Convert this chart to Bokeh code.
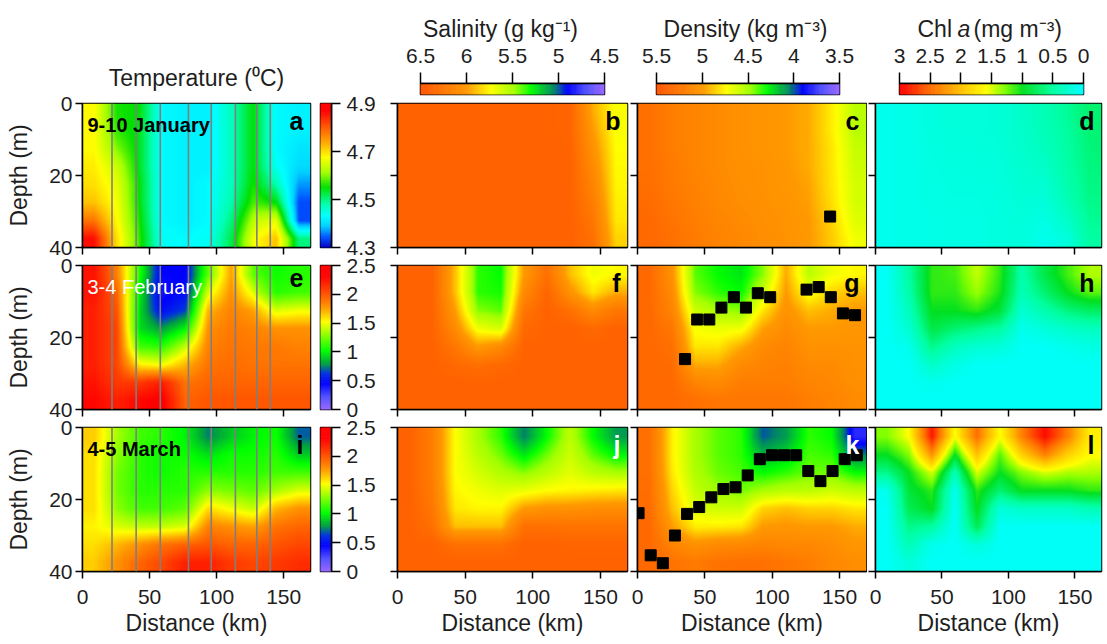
import numpy as np
from bokeh.plotting import figure
from bokeh.layouts import row, column
from bokeh.models import (Range1d, LinearColorMapper, FixedTicker, CustomJSTickFormatter,
                          Span, Label, ColumnDataSource)
from bokeh.embed import file_html
from bokeh.resources import INLINE

# ---------------- data ----------------
grid_dist_km = [8.5, 25.5, 42.5, 59.5, 76.5, 93.5, 110.5, 127.5, 144.5, 161.5]
grid_depth_m = [2.5, 7.5, 12.5, 17.5, 22.5, 27.5, 32.5, 37.5]
stations_km = [22, 40, 58, 79, 96, 114, 130, 140]

# each inner list = one distance column, values from surface to bottom
temp_jan = [
    [4.68, 4.68, 4.68, 4.69, 4.70, 4.72, 4.78, 4.86],
    [4.56, 4.57, 4.60, 4.64, 4.66, 4.67, 4.68, 4.70],
    [4.55, 4.54, 4.54, 4.54, 4.55, 4.55, 4.56, 4.57],
    [4.43, 4.43, 4.43, 4.43, 4.43, 4.43, 4.43, 4.44],
    [4.42, 4.42, 4.42, 4.42, 4.42, 4.42, 4.42, 4.43],
    [4.42, 4.42, 4.42, 4.42, 4.43, 4.43, 4.43, 4.44],
    [4.47, 4.47, 4.47, 4.47, 4.47, 4.48, 4.50, 4.52],
    [4.55, 4.55, 4.55, 4.55, 4.56, 4.58, 4.63, 4.67],
    [4.43, 4.43, 4.43, 4.44, 4.48, 4.55, 4.66, 4.72],
    [4.42, 4.42, 4.41, 4.40, 4.37, 4.34, 4.34, 4.50],
]
temp_feb = [
    [2.25, 2.25, 2.20, 2.20, 2.20, 2.20, 2.25, 2.30],
    [1.85, 1.95, 2.00, 2.05, 2.05, 2.05, 2.10, 2.20],
    [1.10, 1.00, 0.95, 0.95, 1.15, 1.55, 2.10, 2.30],
    [0.45, 0.40, 0.50, 0.80, 1.10, 1.50, 2.20, 2.35],
    [0.45, 0.50, 0.65, 1.00, 1.40, 1.70, 1.90, 1.95],
    [1.20, 1.45, 1.70, 1.80, 1.85, 1.90, 1.95, 2.00],
    [1.75, 1.80, 1.85, 1.88, 1.90, 1.92, 1.95, 2.00],
    [1.20, 1.45, 1.75, 1.85, 1.88, 1.90, 1.95, 2.00],
    [1.05, 1.10, 1.45, 1.80, 1.88, 1.90, 1.95, 2.00],
    [1.10, 1.15, 1.50, 1.80, 1.85, 1.90, 1.95, 2.00],
]
temp_mar = [
    [1.65, 1.60, 1.60, 1.60, 1.60, 1.55, 1.60, 1.65],
    [1.35, 1.30, 1.25, 1.25, 1.30, 1.45, 1.70, 1.80],
    [1.15, 1.10, 1.10, 1.10, 1.15, 1.40, 1.80, 1.95],
    [1.10, 1.05, 1.05, 1.10, 1.15, 1.40, 1.90, 2.05],
    [1.00, 1.05, 1.10, 1.10, 1.20, 1.45, 1.95, 2.20],
    [0.75, 0.95, 1.10, 1.30, 1.60, 1.85, 2.00, 2.20],
    [0.90, 1.05, 1.10, 1.25, 1.50, 1.80, 1.95, 2.10],
    [1.00, 1.05, 1.10, 1.20, 1.40, 1.75, 1.95, 2.05],
    [1.05, 1.10, 1.15, 1.35, 1.70, 1.90, 2.00, 2.10],
    [0.70, 0.90, 1.15, 1.45, 1.80, 1.95, 2.05, 2.15],
]
sal_jan = [
    [6.40, 6.40, 6.40, 6.40, 6.40, 6.40, 6.40, 6.40],
    [6.40, 6.40, 6.40, 6.40, 6.40, 6.40, 6.40, 6.40],
    [6.40, 6.40, 6.40, 6.40, 6.40, 6.40, 6.40, 6.40],
    [6.40, 6.40, 6.40, 6.40, 6.40, 6.40, 6.40, 6.40],
    [6.40, 6.40, 6.40, 6.40, 6.40, 6.40, 6.40, 6.40],
    [6.40, 6.40, 6.40, 6.40, 6.40, 6.40, 6.40, 6.40],
    [6.40, 6.40, 6.40, 6.40, 6.40, 6.40, 6.40, 6.40],
    [6.38, 6.38, 6.39, 6.40, 6.40, 6.40, 6.40, 6.40],
    [5.95, 6.00, 6.05, 6.10, 6.15, 6.20, 6.25, 6.30],
    [5.72, 5.72, 5.74, 5.75, 5.76, 5.78, 5.80, 5.85],
]
sal_feb = [
    [6.40, 6.40, 6.40, 6.40, 6.40, 6.40, 6.40, 6.40],
    [6.40, 6.40, 6.40, 6.40, 6.40, 6.40, 6.40, 6.40],
    [5.90, 5.90, 6.00, 6.10, 6.25, 6.35, 6.40, 6.40],
    [5.35, 5.35, 5.45, 5.70, 6.00, 6.30, 6.40, 6.40],
    [5.30, 5.32, 5.40, 5.62, 6.10, 6.35, 6.40, 6.40],
    [6.00, 6.10, 6.25, 6.35, 6.40, 6.40, 6.40, 6.40],
    [6.30, 6.38, 6.40, 6.40, 6.40, 6.40, 6.40, 6.40],
    [5.90, 6.05, 6.30, 6.40, 6.40, 6.40, 6.40, 6.40],
    [5.70, 5.80, 6.10, 6.35, 6.40, 6.40, 6.40, 6.40],
    [5.75, 5.95, 6.25, 6.40, 6.40, 6.40, 6.40, 6.40],
]
sal_mar = [
    [6.40, 6.40, 6.40, 6.40, 6.40, 6.40, 6.40, 6.40],
    [6.20, 6.20, 6.20, 6.22, 6.25, 6.30, 6.40, 6.40],
    [5.74, 5.74, 5.74, 5.76, 5.80, 5.90, 6.30, 6.40],
    [5.50, 5.55, 5.62, 5.70, 5.76, 5.90, 6.30, 6.40],
    [5.35, 5.42, 5.52, 5.65, 5.76, 5.90, 6.30, 6.40],
    [5.05, 5.25, 5.45, 5.68, 6.00, 6.30, 6.40, 6.40],
    [5.30, 5.42, 5.55, 5.74, 6.05, 6.30, 6.40, 6.40],
    [5.55, 5.60, 5.66, 5.76, 6.05, 6.28, 6.38, 6.40],
    [5.30, 5.40, 5.55, 5.78, 6.08, 6.28, 6.38, 6.40],
    [5.10, 5.28, 5.50, 5.80, 6.08, 6.28, 6.38, 6.40],
]
dens_jan = [
    [5.30, 5.30, 5.30, 5.30, 5.32, 5.33, 5.35, 5.35],
    [5.20, 5.20, 5.20, 5.22, 5.22, 5.25, 5.27, 5.30],
    [5.15, 5.15, 5.15, 5.15, 5.17, 5.18, 5.20, 5.22],
    [5.10, 5.10, 5.10, 5.10, 5.11, 5.12, 5.14, 5.16],
    [5.05, 5.05, 5.05, 5.06, 5.07, 5.08, 5.10, 5.12],
    [5.04, 5.04, 5.04, 5.05, 5.05, 5.06, 5.07, 5.08],
    [5.00, 5.00, 5.00, 5.01, 5.02, 5.03, 5.04, 5.05],
    [4.95, 4.95, 4.95, 4.95, 4.97, 4.98, 5.00, 5.00],
    [4.78, 4.78, 4.80, 4.80, 4.80, 4.82, 4.85, 4.87],
    [4.55, 4.55, 4.58, 4.60, 4.62, 4.62, 4.65, 4.70],
]
dens_feb = [
    [5.35, 5.35, 5.35, 5.35, 5.35, 5.35, 5.35, 5.35],
    [5.05, 5.10, 5.15, 5.25, 5.30, 5.33, 5.35, 5.35],
    [4.40, 4.45, 4.60, 4.72, 4.80, 4.95, 5.15, 5.30],
    [4.30, 4.35, 4.50, 4.68, 4.80, 4.95, 5.10, 5.25],
    [4.25, 4.30, 4.45, 4.70, 4.95, 5.10, 5.20, 5.25],
    [4.45, 4.60, 4.80, 4.98, 5.10, 5.15, 5.20, 5.25],
    [4.95, 5.00, 5.05, 5.10, 5.15, 5.18, 5.20, 5.25],
    [4.55, 4.70, 4.90, 5.00, 5.05, 5.10, 5.15, 5.20],
    [4.70, 4.85, 4.95, 5.00, 5.05, 5.10, 5.12, 5.15],
    [4.75, 4.90, 5.00, 5.02, 5.05, 5.05, 5.07, 5.10],
]
dens_mar = [
    [5.30, 5.30, 5.30, 5.32, 5.33, 5.35, 5.35, 5.35],
    [4.78, 4.78, 4.80, 4.85, 4.90, 5.00, 5.15, 5.28],
    [4.50, 4.50, 4.52, 4.58, 4.65, 4.78, 5.05, 5.22],
    [4.40, 4.40, 4.42, 4.48, 4.60, 4.78, 5.10, 5.28],
    [4.35, 4.35, 4.38, 4.42, 4.60, 4.80, 5.12, 5.30],
    [4.00, 4.15, 4.30, 4.50, 4.85, 5.00, 5.15, 5.30],
    [4.10, 4.22, 4.35, 4.55, 4.90, 5.02, 5.12, 5.25],
    [4.35, 4.38, 4.42, 4.55, 4.85, 5.00, 5.12, 5.20],
    [4.30, 4.35, 4.42, 4.60, 4.85, 5.00, 5.08, 5.12],
    [3.80, 4.05, 4.30, 4.55, 4.80, 4.95, 5.02, 5.08],
]
chl_jan = [
    [0.10, 0.10, 0.10, 0.10, 0.10, 0.10, 0.10, 0.10],
    [0.12, 0.12, 0.12, 0.12, 0.12, 0.12, 0.12, 0.12],
    [0.18, 0.18, 0.17, 0.16, 0.15, 0.15, 0.14, 0.14],
    [0.20, 0.20, 0.19, 0.18, 0.17, 0.16, 0.15, 0.15],
    [0.20, 0.20, 0.19, 0.18, 0.17, 0.16, 0.15, 0.15],
    [0.22, 0.22, 0.21, 0.20, 0.19, 0.18, 0.18, 0.18],
    [0.30, 0.29, 0.28, 0.26, 0.24, 0.22, 0.20, 0.20],
    [0.40, 0.38, 0.35, 0.30, 0.25, 0.20, 0.15, 0.10],
    [0.55, 0.52, 0.50, 0.48, 0.45, 0.40, 0.30, 0.20],
    [0.70, 0.68, 0.66, 0.64, 0.62, 0.60, 0.55, 0.50],
]
chl_feb = [
    [0.05, 0.05, 0.05, 0.05, 0.05, 0.05, 0.05, 0.05],
    [0.50, 0.45, 0.35, 0.25, 0.10, 0.05, 0.05, 0.05],
    [1.10, 1.10, 1.00, 0.85, 0.60, 0.30, 0.10, 0.05],
    [1.15, 1.10, 1.00, 0.70, 0.35, 0.15, 0.05, 0.05],
    [1.45, 1.35, 1.10, 0.60, 0.25, 0.05, 0.05, 0.05],
    [1.10, 1.05, 0.90, 0.50, 0.20, 0.05, 0.05, 0.05],
    [0.45, 0.40, 0.25, 0.10, 0.05, 0.05, 0.05, 0.05],
    [0.85, 0.70, 0.45, 0.20, 0.05, 0.05, 0.05, 0.05],
    [1.15, 1.00, 0.65, 0.30, 0.10, 0.05, 0.05, 0.05],
    [1.40, 1.20, 0.75, 0.35, 0.15, 0.05, 0.05, 0.05],
]
chl_mar = [
    [1.30, 1.00, 0.60, 0.10, 0.05, 0.05, 0.05, 0.05],
    [1.60, 1.30, 1.00, 0.90, 0.80, 0.60, 0.40, 0.20],
    [2.90, 2.30, 1.50, 1.10, 1.00, 0.50, 0.10, 0.05],
    [1.60, 1.00, 0.40, 0.10, 0.05, 0.05, 0.05, 0.05],
    [2.50, 2.00, 1.50, 1.10, 1.00, 0.80, 0.20, 0.05],
    [1.60, 1.20, 1.00, 0.70, 0.20, 0.05, 0.05, 0.05],
    [2.40, 1.90, 1.30, 1.00, 0.30, 0.05, 0.05, 0.05],
    [2.95, 2.40, 1.50, 1.00, 0.30, 0.05, 0.05, 0.05],
    [2.40, 1.90, 1.40, 1.00, 0.30, 0.05, 0.05, 0.05],
    [1.70, 1.60, 1.40, 1.10, 0.40, 0.05, 0.05, 0.05],
]

# marker positions (density panels)
dens_jan_pts_km = [143.0]
dens_jan_pts_m = [31.4]
dens_feb_pts_km = [35.3, 44.3, 53.3, 62.3, 71.5, 80.5, 89.3, 98.5, 125.5, 134.5, 143.5, 152.5, 161.5]
dens_feb_pts_m = [26.0, 15.0, 15.0, 11.7, 8.8, 11.7, 7.7, 8.8, 6.7, 6.0, 8.8, 13.3, 13.8]
dens_mar_pts_km = [0.8, 9.8, 18.8, 27.8, 36.8, 45.8, 54.8, 63.8, 72.8, 81.8, 90.8, 99.8,
                   108.8, 117.8, 126.8, 135.8, 144.8, 153.8, 162.8]
dens_mar_pts_m = [23.8, 35.5, 37.7, 30.0, 24.0, 22.1, 19.4, 17.1, 16.6, 13.3, 8.8, 7.7,
                  7.7, 7.7, 12.1, 14.9, 12.1, 8.8, 7.7]

x_ticks = [0, 50, 100, 150]
depth_ticks = [0, 20, 40]
tjan_ticks = [4.3, 4.5, 4.7, 4.9]
t_ticks = [0, 0.5, 1, 1.5, 2, 2.5]
sal_ticks = [6.5, 6, 5.5, 5, 4.5]
dens_ticks = [5.5, 5, 4.5, 4, 3.5]
chl_ticks = [3, 2.5, 2, 1.5, 1, 0.5, 0]

# ---------------- styling ----------------
FONT = "Liberation Sans"
TXT = "#1e1e1e"
XMAX, ZMAX = 170, 40


def make_palette(anchors, n=256):
    ts = np.array([a[0] for a in anchors])
    cols = np.array([[int(a[1][i:i + 2], 16) for i in (1, 3, 5)] for a in anchors], float)
    out = []
    for t in np.linspace(0, 1, n):
        rgb = [int(round(np.interp(t, ts, cols[:, k]))) for k in range(3)]
        out.append("#%02x%02x%02x" % tuple(rgb))
    return out


PAL_TJAN = make_palette([(0.0, "#0000c0"), (0.07, "#0050ff"), (0.15, "#00d0ff"), (0.22, "#00ffff"),
                         (0.30, "#00ffb0"), (0.42, "#00e000"), (0.52, "#a0ff00"), (0.63, "#ffff00"),
                         (0.73, "#ffaa00"), (0.85, "#ff5000"), (0.95, "#ff0000"), (1.0, "#ff0000")])
PAL_T = make_palette([(0.0, "#9966ff"), (0.09, "#5050ff"), (0.18, "#0000ff"), (0.25, "#0030e0"),
                      (0.32, "#00a040"), (0.41, "#00ff00"), (0.51, "#80ff00"), (0.61, "#ffff00"),
                      (0.71, "#ff9900"), (0.83, "#ff4000"), (0.93, "#ff0000"), (1.0, "#ff0000")])
PAL_SD = make_palette([(0.0, "#9966ff"), (0.1, "#5050ff"), (0.2, "#0000ff"), (0.28, "#008a60"),
                       (0.4, "#00ff00"), (0.49, "#a0ff00"), (0.62, "#ffff00"), (0.75, "#ff9900"),
                       (1.0, "#ff5500")])
PAL_CHL = make_palette([(0.0, "#00ffff"), (0.17, "#00ffa0"), (0.33, "#00e020"), (0.43, "#80ff00"),
                        (0.53, "#ffff00"), (0.67, "#ffc000"), (0.83, "#ff7000"), (1.0, "#ff0000")])

m_tjan = LinearColorMapper(palette=PAL_TJAN, low=4.3, high=4.9)
m_t = LinearColorMapper(palette=PAL_T, low=0, high=2.5)
m_sal = LinearColorMapper(palette=PAL_SD, low=4.5, high=6.5)
m_den = LinearColorMapper(palette=PAL_SD, low=3.5, high=5.5)
m_chl = LinearColorMapper(palette=PAL_CHL, low=0, high=3)

ABS_FMT = CustomJSTickFormatter(code="return String(Math.abs(tick))")

# geometry: (border_left, frame_w, border_right)
COLS = {"T": (82, 228, 2), "B": (8, 230, 2), "C": (8, 229, 1), "D": (8, 226, 6)}
# transparent overlaps between stacked rows keep the edge tick labels whole
ROWS = [(7 + 6, 144, 9 + 12), (9 + 12, 144, 9 + 12), (9 + 12, 144, 73)]
MARGINS = [(-6, 0, -12, 0), (-12, 0, -12, 0), (-12, 0, 0, 0)]


def base_fig(w, h, **kw):
    p = figure(width=w, height=h, toolbar_location=None, tools="", output_backend="svg",
               title=None, border_fill_color=None, background_fill_color=None, **kw)
    p.grid.visible = False
    return p


def style_axis(ax, labels=True, size="21px"):
    ax.major_tick_out = 7
    ax.major_tick_in = 0
    ax.minor_tick_out = 0
    ax.minor_tick_in = 0
    ax.axis_line_color = "black"
    ax.axis_line_width = 1.5
    ax.major_tick_line_color = "black"
    ax.major_tick_line_width = 1.5
    ax.major_label_text_font = FONT
    ax.axis_label_text_font = FONT
    ax.axis_label_text_font_size = "23px"
    ax.axis_label_text_font_style = "normal"
    ax.axis_label_text_color = TXT
    if labels:
        ax.major_label_text_font_size = size
        ax.major_label_text_color = TXT
        ax.major_label_standoff = 4
    else:
        ax.major_label_text_font_size = "0px"
        ax.major_label_text_color = None
        ax.major_label_standoff = 0


def smooth_field(grid, nx=230, nz=144):
    """Render-time bilinear resampling of the read grid onto screen-sized cells."""
    g = np.array(grid, dtype=float).T          # rows: depth (surface first)
    xs = (np.arange(nx) + 0.5) * XMAX / nx
    zs = (np.arange(nz) + 0.5) * ZMAX / nz
    tmp = np.array([np.interp(xs, grid_dist_km, r) for r in g])
    fine = np.array([np.interp(zs, grid_depth_m, tmp[:, j]) for j in range(nx)]).T
    return np.flipud(fine)                     # row 0 = deepest (y = -40)


def panel(col, r, grid, mapper, letter, letter_color="black", date=None, date_color="black",
          date_bold=True, stations=None, pts=None):
    bl, fw, br = COLS[col]
    bt, fh, bb = ROWS[r]
    p = base_fig(bl + fw + br, bt + fh + bb, x_range=Range1d(0, XMAX), y_range=Range1d(-ZMAX, 0),
                 min_border_left=bl, min_border_right=br, min_border_top=bt,
                 min_border_bottom=bb, margin=MARGINS[r])
    p.image(image=[smooth_field(grid)], x=0, y=-ZMAX, dw=XMAX, dh=ZMAX, color_mapper=mapper)
    if stations:
        for s in stations:
            p.add_layout(Span(location=s, dimension="height", line_color="#7f7f7f", line_width=1.6))
    if pts is not None:
        src = ColumnDataSource(dict(x=pts[0], y=[-v for v in pts[1]]))
        p.scatter("x", "y", source=src, marker="square", size=11, fill_color="black",
                  line_color="black")
    p.outline_line_color = "black"
    p.outline_line_width = 1.5
    p.xaxis.ticker = FixedTicker(ticks=x_ticks)
    p.yaxis.ticker = FixedTicker(ticks=[-d for d in depth_ticks])
    p.yaxis.formatter = ABS_FMT
    style_axis(p.xaxis[0], labels=(r == 2))
    style_axis(p.yaxis[0], labels=(col == "T"))
    if r == 2:
        p.xaxis.axis_label = "Distance (km)"
        p.xaxis.major_label_standoff = 11
        p.xaxis.axis_label_standoff = 3
    if col == "T":
        p.yaxis.axis_label = "Depth (m)"
        p.yaxis.major_label_standoff = 3
        p.yaxis.axis_label_standoff = 14
    p.add_layout(Label(x=fw - 7, y=fh - 3, x_units="screen", y_units="screen", text=letter,
                       text_align="right", text_baseline="top", text_font=FONT,
                       text_font_size="25px", text_font_style="bold", text_color=letter_color))
    if date:
        p.add_layout(Label(x=5, y=fh - 21, x_units="screen", y_units="screen", text=date,
                           text_align="left", text_baseline="middle", text_font=FONT,
                           text_font_size="20px",
                           text_font_style="bold" if date_bold else "normal",
                           text_color=date_color))
    return p


def vbar(r, mapper, lo, hi, ticks):
    bt, fh, bb = ROWS[r]
    p = base_fig(8 + 11 + 58, bt + fh + bb, x_range=Range1d(0, 1), y_range=Range1d(lo, hi),
                 x_axis_location=None, y_axis_location="right", min_border_left=8,
                 min_border_right=58, min_border_top=bt, min_border_bottom=bb, margin=MARGINS[r])
    v = np.linspace(lo, hi, 201)
    src = ColumnDataSource(dict(b=v[:-1], t=v[1:], m=(v[:-1] + v[1:]) / 2))
    p.quad(left=0, right=1, bottom="b", top="t", source=src,
           fill_color={"field": "m", "transform": mapper},
           line_color={"field": "m", "transform": mapper}, line_width=0.6)
    p.outline_line_color = "black"
    p.outline_line_width = 1.5
    p.yaxis.ticker = FixedTicker(ticks=ticks)
    p.yaxis.formatter = ABS_FMT
    style_axis(p.yaxis[0])
    p.yaxis.major_tick_out = 9
    p.yaxis.major_label_standoff = 6
    return p


def hbar(mapper, lo, hi, ticks, bl, fw, br):
    # canvas 38..96 (overlaps the title strip by 8 px, transparently)
    p = base_fig(bl + fw + br, 58, x_range=Range1d(-hi, -lo), y_range=Range1d(0, 1),
                 x_axis_location="above", y_axis_location=None, min_border_left=bl,
                 min_border_right=br, min_border_top=45, min_border_bottom=2,
                 margin=(-8, 0, 0, 0))
    v = np.linspace(lo, hi, 201)
    src = ColumnDataSource(dict(l=-v[:-1], r=-v[1:], m=(v[:-1] + v[1:]) / 2))
    p.quad(left="l", right="r", bottom=0, top=1, source=src,
           fill_color={"field": "m", "transform": mapper},
           line_color={"field": "m", "transform": mapper}, line_width=0.6)
    p.outline_line_color = "black"
    p.outline_line_width = 1.5
    p.xaxis.ticker = FixedTicker(ticks=[-t for t in ticks])
    p.xaxis.formatter = ABS_FMT
    style_axis(p.xaxis[0])
    p.xaxis.major_tick_out = 11
    p.xaxis.major_label_standoff = 10
    return p


def text_fig(w, h, items):
    p = base_fig(w, h, x_range=Range1d(0, w), y_range=Range1d(0, h), x_axis_location=None,
                 y_axis_location=None, min_border_left=0, min_border_right=0, min_border_top=0,
                 min_border_bottom=0)
    p.outline_line_color = None
    for (txt, x, y, align, style) in items:
        p.add_layout(Label(x=x, y=y, text=txt, text_align=align, text_baseline="middle",
                           text_font=FONT, text_font_size="23px", text_font_style=style,
                           text_color=TXT))
    return p


# ---------------- header ----------------
b0 = text_fig(389, 96, [("Temperature (⁰C)", 196, 19, "center", "normal")])
t_sal = text_fig(241, 46, [("Salinity (g kg⁻¹)", 111, 18, "center", "normal")])
t_den = text_fig(239, 46, [("Density (kg m⁻³)", 115, 18, "center", "normal")])
t_chl = text_fig(238, 46, [("Chl", 48, 18, "left", "normal"), ("a", 88, 18, "left", "italic"),
                           ("(mg m⁻³)", 104, 18, "left", "normal")])
h_sal = hbar(m_sal, 4.5, 6.5, sal_ticks, 31, 184, 26)
h_den = hbar(m_den, 3.5, 5.5, dens_ticks, 26, 183, 30)
h_chl = hbar(m_chl, 0, 3, chl_ticks, 30, 184, 24)
header = row(b0, column(row(t_sal, t_den, t_chl), row(h_sal, h_den, h_chl)))

# ---------------- panels ----------------
r1 = row(panel("T", 0, temp_jan, m_tjan, "a", date="9-10 January", stations=stations_km),
         vbar(0, m_tjan, 4.3, 4.9, tjan_ticks),
         panel("B", 0, sal_jan, m_sal, "b"),
         panel("C", 0, dens_jan, m_den, "c", pts=(dens_jan_pts_km, dens_jan_pts_m)),
         panel("D", 0, chl_jan, m_chl, "d"))
r2 = row(panel("T", 1, temp_feb, m_t, "e", date="3-4 February", date_color="white",
               date_bold=False, stations=stations_km),
         vbar(1, m_t, 0, 2.5, t_ticks),
         panel("B", 1, sal_feb, m_sal, "f"),
         panel("C", 1, dens_feb, m_den, "g", pts=(dens_feb_pts_km, dens_feb_pts_m)),
         panel("D", 1, chl_feb, m_chl, "h"))
r3 = row(panel("T", 2, temp_mar, m_t, "i", date="4-5 March", stations=stations_km),
         vbar(2, m_t, 0, 2.5, t_ticks),
         panel("B", 2, sal_mar, m_sal, "j", letter_color="white"),
         panel("C", 2, dens_mar, m_den, "k", letter_color="white",
               pts=(dens_mar_pts_km, dens_mar_pts_m)),
         panel("D", 2, chl_mar, m_chl, "l"))

layout = column(header, r1, r2, r3)

open("out.html", "w").write(file_html(layout, INLINE))
